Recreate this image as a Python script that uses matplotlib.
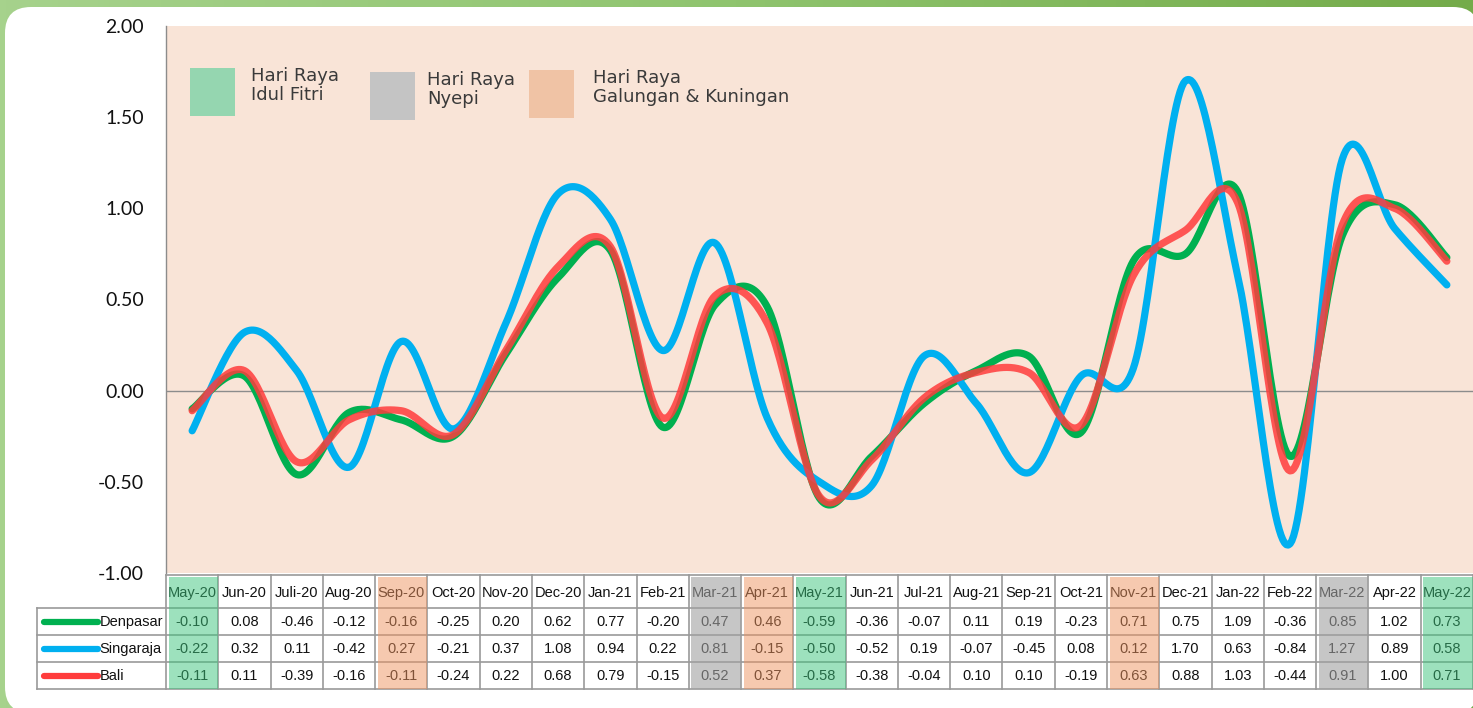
import numpy as np
import matplotlib
matplotlib.use("Agg")
import matplotlib.pyplot as plt
from matplotlib.patches import Rectangle, FancyBboxPatch
from matplotlib.colors import LinearSegmentedColormap

months = ["May-20", "Jun-20", "Juli-20", "Aug-20", "Sep-20", "Oct-20", "Nov-20", "Dec-20",
          "Jan-21", "Feb-21", "Mar-21", "Apr-21", "May-21", "Jun-21", "Jul-21", "Aug-21",
          "Sep-21", "Oct-21", "Nov-21", "Dec-21", "Jan-22", "Feb-22", "Mar-22", "Apr-22", "May-22"]
denpasar = [-0.10, 0.08, -0.46, -0.12, -0.16, -0.25, 0.20, 0.62, 0.77, -0.20, 0.47, 0.46, -0.59,
            -0.36, -0.07, 0.11, 0.19, -0.23, 0.71, 0.75, 1.09, -0.36, 0.85, 1.02, 0.73]
singaraja = [-0.22, 0.32, 0.11, -0.42, 0.27, -0.21, 0.37, 1.08, 0.94, 0.22, 0.81, -0.15, -0.50,
             -0.52, 0.19, -0.07, -0.45, 0.08, 0.12, 1.70, 0.63, -0.84, 1.27, 0.89, 0.58]
bali = [-0.11, 0.11, -0.39, -0.16, -0.11, -0.24, 0.22, 0.68, 0.79, -0.15, 0.52, 0.37, -0.58,
        -0.38, -0.04, 0.10, 0.10, -0.19, 0.63, 0.88, 1.03, -0.44, 0.91, 1.00, 0.71]
series_names = ["Denpasar", "Singaraja", "Bali"]
idul_fitri_idx = [0, 12, 24]
nyepi_idx = [10, 22]
galungan_idx = [4, 11, 18]
legend_labels = ["Hari Raya\nIdul Fitri", "Hari Raya\nNyepi", "Hari Raya\nGalungan & Kuningan"]
yticks = [-1.0, -0.5, 0.0, 0.5, 1.0, 1.5, 2.0]

C_GREEN = "#00b050"
C_BLUE = "#00b0f0"
C_RED = "#ff3c3c"
HL_GREEN = "#3cc47c"
HL_GRAY = "#a0a0a0"
HL_ORANGE = "#ee9460"
LEG_GREEN = "#95d6b0"
LEG_GRAY = "#c4c4c4"
LEG_ORANGE = "#f0c3a5"

W, H = 1473, 708
fig = plt.figure(figsize=(W / 100, H / 100), dpi=100)


def fx(px):
    return px / W


def fy(py):
    return 1 - py / H


bg = fig.add_axes([0, 0, 1, 1])
bg.set_xlim(0, W)
bg.set_ylim(H, 0)
bg.axis("off")
grad = np.linspace(0, 1, 256)[None, :]
cmap = LinearSegmentedColormap.from_list("g", ["#a6d28c", "#8fc46e", "#74ab4a"])
bg.imshow(grad, cmap=cmap, extent=[0, W, H, 0], aspect="auto", zorder=0)
bg.add_patch(FancyBboxPatch((5, 7), 1474, 706, boxstyle="round,pad=0,rounding_size=26",
                            facecolor="white", edgecolor="none", zorder=1))


def smooth(xs, ys, n=30):
    xs = np.asarray(xs, float)
    ys = np.asarray(ys, float)
    P = np.column_stack([xs, ys])
    P = np.vstack([P[0], P, P[-1]])
    out = []
    t = np.linspace(0, 1, n)[:, None]
    for i in range(1, len(P) - 2):
        p0, p1, p2, p3 = P[i - 1], P[i], P[i + 1], P[i + 2]
        c1 = p1 + (p2 - p0) / 6.0
        c2 = p2 - (p3 - p1) / 6.0
        seg = ((1 - t) ** 3) * p1 + 3 * ((1 - t) ** 2) * t * c1 + 3 * (1 - t) * t ** 2 * c2 + t ** 3 * p2
        out.append(seg if i == 1 else seg[1:])
    out = np.vstack(out)
    return out[:, 0], out[:, 1]


ax = fig.add_axes([fx(166), fy(573), fx(W - 166), fy(26) - fy(573)])
ax.set_facecolor("#f9e4d7")
ax.set_xlim(-0.5, len(months) - 0.5)
ax.set_ylim(-1.0, 2.0)
for s in ["top", "right", "bottom"]:
    ax.spines[s].set_visible(False)
ax.spines["left"].set_color("#8c8c8c")
ax.spines["left"].set_linewidth(1.0)
ax.set_xticks([])
ax.set_yticks(yticks)
ax.set_yticklabels([f"{v:.2f}" for v in yticks], fontsize=14, family="Lato", color="#111111")
ax.tick_params(axis="y", length=0, pad=16)
ax.axhline(0, color="#8c8c8c", lw=1.0, zorder=1)

x = np.arange(len(months))
for vals, col, a in [(denpasar, C_GREEN, 1.0), (singaraja, C_BLUE, 1.0), (bali, C_RED, 0.85)]:
    sx, sy = smooth(x, vals)
    ax.plot(sx, sy, color=col, lw=5.2, alpha=a, solid_capstyle="round", zorder=3)


def axpx(px, py):
    return ((px - 166) / (W - 166), (573 - py) / (573 - 26))


leg = [(190, 68, LEG_GREEN, legend_labels[0], 251),
       (370, 72, LEG_GRAY, legend_labels[1], 427),
       (529, 70, LEG_ORANGE, legend_labels[2], 593)]
for (px, py, col, lab, tx) in leg:
    x0, y1 = axpx(px, py)
    x1, y0 = axpx(px + 45, py + 48)
    ax.add_patch(Rectangle((x0, y0), x1 - x0, y1 - y0, transform=ax.transAxes,
                           facecolor=col, edgecolor="none", zorder=2))
    tx0, ty0 = axpx(tx, py - 1)
    ax.text(tx0, ty0, lab, transform=ax.transAxes, fontsize=13, family="DejaVu Sans",
            color="#3a3a3a", va="top", ha="left", linespacing=1.1, zorder=2)

tab = fig.add_axes([fx(37), fy(689), fx(W - 37), fy(575) - fy(689)])
tab.set_xlim(-0.5 - 129 / 52.28, len(months) - 0.5)
tab.set_ylim(689, 575)
tab.axis("off")
rows = [575, 608, 635, 662, 689]
lc = "#9a9a9a"
lab_left = -0.5 - 129 / 52.28
tab.plot([-0.5, len(months) - 0.5], [rows[0], rows[0]], color=lc, lw=1.2, clip_on=False)
for r in rows[1:]:
    tab.plot([lab_left, len(months) - 0.5], [r, r], color=lc, lw=1.2, clip_on=False)
for i in range(len(months) + 1):
    tab.plot([i - 0.5, i - 0.5], [rows[0], rows[-1]], color=lc, lw=1.2, clip_on=False)
tab.plot([lab_left, lab_left], [rows[1], rows[-1]], color=lc, lw=1.2, clip_on=False)

tfont = dict(fontsize=10.5, family="Liberation Sans", color="#111111", ha="center", va="center")
for i, m in enumerate(months):
    tab.text(i, (rows[0] + rows[1]) / 2 + 1, m, **tfont)
for r, vals in enumerate([denpasar, singaraja, bali]):
    yc = (rows[r + 1] + rows[r + 2]) / 2
    for i, v in enumerate(vals):
        tab.text(i, yc, f"{v:.2f}", **tfont)

for r, (name, col) in enumerate(zip(series_names, [C_GREEN, C_BLUE, C_RED])):
    yc = (rows[r + 1] + rows[r + 2]) / 2
    tab.plot([lab_left + 0.13, lab_left + 1.17], [yc, yc], color=col, lw=4.5, solid_capstyle="round")
    tab.text(lab_left + 1.2, yc, name, fontsize=10.5, family="Liberation Sans", color="#111111",
             ha="left", va="center")

for idxs, col, a in [(idul_fitri_idx, HL_GREEN, 0.5),
                     (nyepi_idx, HL_GRAY, 0.6),
                     (galungan_idx, HL_ORANGE, 0.5)]:
    for i in idxs:
        tab.add_patch(Rectangle((i - 0.45, 577), 0.95, 112, facecolor=col, alpha=a,
                                edgecolor="none", zorder=5, clip_on=False))

fig.savefig("out.png", dpi=100)
